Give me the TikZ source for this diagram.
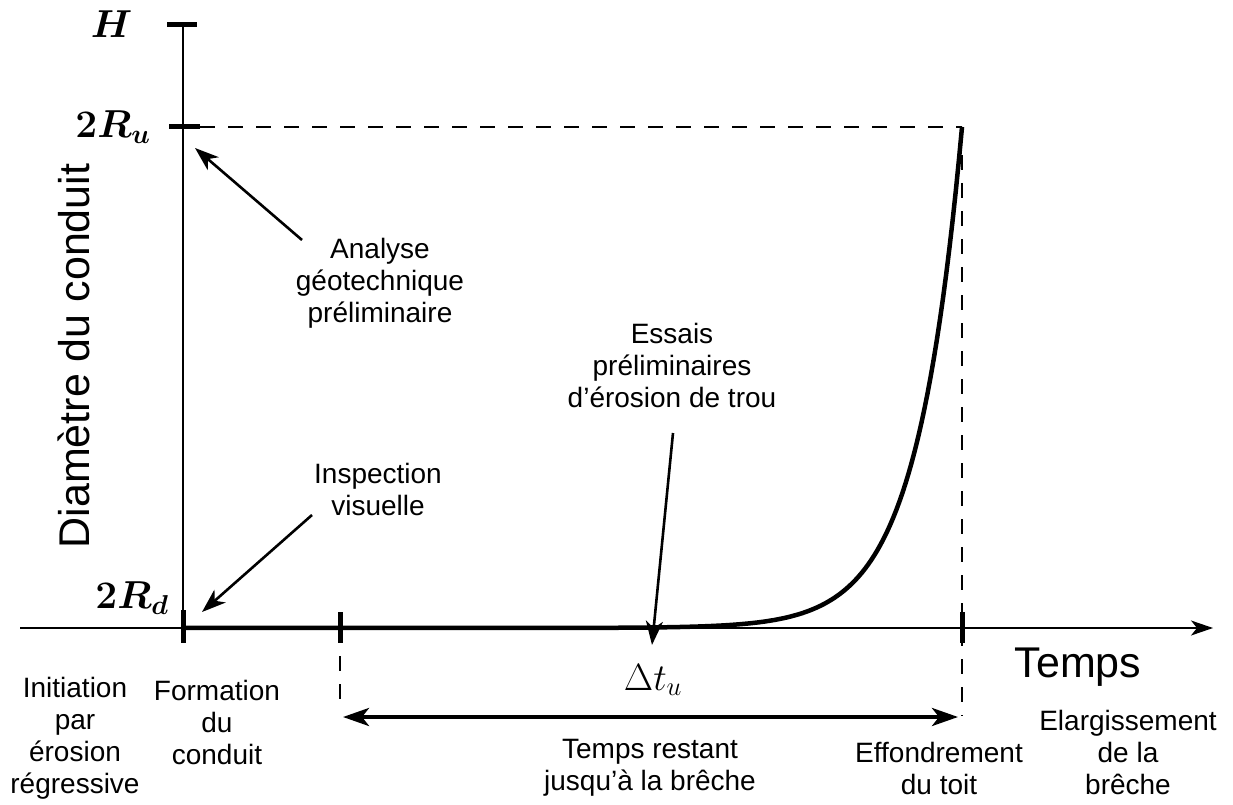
\RequirePackage{fix-cm}
\documentclass[tikz,border=0pt]{standalone}
\usepackage{amsmath}
\usepackage{fontspec}
\setmainfont{Liberation Sans}
\usetikzlibrary{arrows.meta}

\begin{document}
\begin{tikzpicture}[x=1pt,y=-1pt]
  \tikzstyle{Txt}=[font=\fontsize{28}{32}\selectfont,align=center]
  \tikzstyle{BigTxt}=[font=\fontsize{43}{50}\selectfont]
  \tikzstyle{Lbl}=[font=\fontsize{39}{46}\selectfont,anchor=east]
  \tikzstyle{Axis}=[line width=1.8pt]
  \tikzstyle{Tick}=[line width=5pt]
  \tikzstyle{Guide}=[line width=1.8pt,dash pattern=on 15pt off 13pt]
  \tikzstyle{Pointer}=[line width=2.6pt,-{Stealth[length=24pt,width=17pt,inset=7pt]}]
  \useasboundingbox (0,0) rectangle (1233,805);

  \coordinate (O) at (183,628);
  \coordinate (Top) at (183,25);
  \coordinate (Ru) at (183,127);
  \coordinate (Xs) at (20,628);
  \coordinate (Xe) at (1213,628);
  \coordinate (T1) at (340,628);
  \coordinate (T2) at (962,628);
  \coordinate (Peak) at (962,127);
  \coordinate (D1) at (340,717);
  \coordinate (D2) at (962,717);

  \draw[Axis] (O) -- (Top);
  \draw[Axis,-{Stealth[length=22pt,width=15pt,inset=6pt]}] (Xs) -- (Xe);
  \draw[Tick] ([xshift=-16pt]Top) -- ([xshift=14pt]Top);
  \draw[Tick] ([xshift=-14pt]Ru) -- ([xshift=17pt]Ru);
  \draw[Guide] ([xshift=17pt]Ru) -- (Peak);
  \draw[Guide] (Peak) -- ([yshift=-88pt]T2);
  \draw[Guide] ([yshift=-28pt]T1) -- ([yshift=-76pt]T1);
  \draw[Tick] ([yshift=18pt]O) -- ([yshift=-15pt]O);
  \draw[Tick] ([yshift=16pt]T1) -- ([yshift=-15pt]T1);
  \draw[Tick] ([yshift=16pt]T2) -- ([yshift=-15pt]T2);
  \draw[line width=4.5pt] plot[domain=183:962,samples=250] (\x,{628-501*exp(0.022*(\x-962))});
  \draw[line width=4pt,{Stealth[length=26pt,width=18pt,inset=7pt]}-{Stealth[length=26pt,width=18pt,inset=7pt]}] ([xshift=3pt]D1) -- ([xshift=-4pt]D2);

  \node[Lbl] (h) at (136,24) {$\boldsymbol{H}$};
  \node[Lbl] (ru) at (154,127) {$\boldsymbol{2R_u}$};
  \node[Lbl] (rd) at (172,598) {$\boldsymbol{2R_d}$};
  \node[font=\fontsize{38}{46}\selectfont] (dt) at (653,680) {$\Delta t_u$};

  \node[BigTxt,rotate=90] (ylab) at (74,356) {Diamètre du conduit};
  \node[BigTxt] (xlab) at (1078,667) {Temps};

  \node[Txt] (analyse) at (380,283) {Analyse\\géotechnique\\préliminaire};
  \node[Txt] (inspect) at (378,489) {Inspection\\visuelle};
  \node[Txt] (essais) at (672,365) {Essais\\préliminaires\\d'érosion de trou};
  \node[Txt] (init) at (75,738) {Initiation\\par\\érosion\\régressive};
  \node[Txt] (form) at (217,722) {Formation\\du\\conduit};
  \node[Txt] (restant) at (650,768) {Temps restant\\jusqu'à la brêche};
  \node[Txt] (effond) at (939,768) {Effondrement\\du toit};
  \node[Txt] (elarg) at (1128,752) {Elargissement\\de la\\brêche};

  \coordinate (a1) at (302,240);
  \coordinate (a2) at (195,148);
  \coordinate (b1) at (312,515);
  \coordinate (b2) at (202,612);
  \coordinate (c1) at (673,433);
  \coordinate (c2) at (652,645);
  \draw[Pointer] (a1) -- (a2);
  \draw[Pointer] (b1) -- (b2);
  \draw[Pointer] (c1) -- (c2);
\end{tikzpicture}
\end{document}
